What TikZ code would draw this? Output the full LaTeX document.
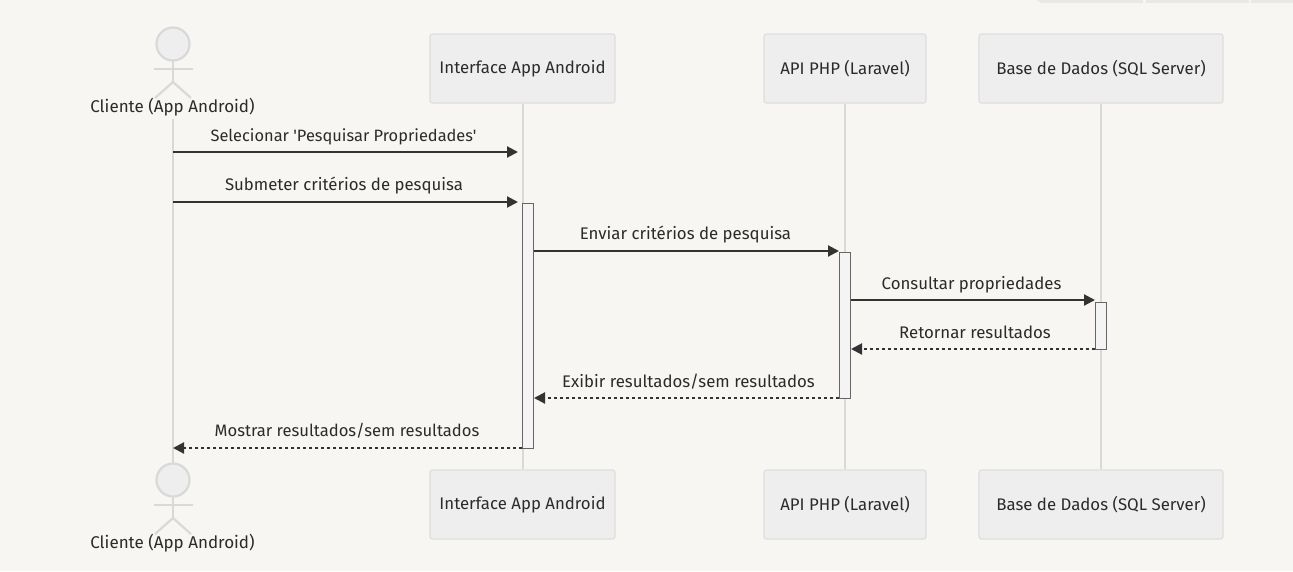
\documentclass[tikz,border=0pt]{standalone}
\usepackage{fontspec}
\setmainfont{Fira Sans}[Ligatures=TeXOff]
\usetikzlibrary{arrows.meta,calc}
\definecolor{bgc}{HTML}{F7F6F3}
\definecolor{boxf}{HTML}{EEEEEF}
\definecolor{boxd}{HTML}{DEDEDE}
\definecolor{lifec}{HTML}{D9D9D9}
\definecolor{inkc}{HTML}{333333}
\definecolor{txtc}{HTML}{2B2B2B}
\definecolor{actf}{HTML}{F4F4F4}
\definecolor{actd}{HTML}{666666}
\definecolor{stripc}{HTML}{E9E8E4}
\tikzset{
  x=1pt,y=-1pt,
  lbl/.style={text=txtc,font=\fontsize{16.8}{19}\selectfont,inner sep=0pt,anchor=center},
  actorlbl/.style={lbl,font=\fontsize{17}{19}\selectfont},
  part/.style={draw=boxd,fill=boxf,line width=1.2pt,rounded corners=2.5pt,minimum height=69pt,text=txtc,font=\fontsize{16.8}{19}\selectfont,inner sep=0pt},
  life/.style={draw=lifec,line width=2.2pt},
  stick/.style={draw=lifec,line width=2.2pt},
  activ/.style={draw=actd,fill=actf,line width=1pt,minimum width=11pt,inner sep=0pt},
  msg/.style={draw=inkc,line width=2.1pt,-{Triangle[length=11pt,width=11pt]}},
  ret/.style={msg,dash pattern=on 3pt off 3pt},
}
\newcommand{\stickman}[2]{%
  \draw[stick,fill=boxf] (#1,#2) circle[radius=16.5];
  \draw[stick] (#1,#2+16.5) -- (#1,#2+38);
  \draw[stick] (#1-19.5,#2+25) -- (#1+19.5,#2+25);
  \draw[stick] (#1-18,#2+54) -- (#1,#2+38) -- (#1+18,#2+54);
}
\begin{document}
\begin{tikzpicture}
\path[fill=bgc] (0,0) rectangle (1293,571);
\useasboundingbox (0,0) rectangle (1293,571);
\fill[stripc] (1037,0) -- (1143,0) -- (1143,3) -- (1041,3) -- cycle;
\fill[stripc] (1146,0) rectangle (1249,3);
\fill[stripc] (1251,0) rectangle (1293,3);

% participants
\node[part,minimum width=185pt] (uitop) at (522.5,68.5) {\raisebox{-1.5pt}{Interface App Android}};
\node[part,minimum width=162pt] (apitop) at (845,68.5) {\raisebox{-1.5pt}{API PHP (Laravel)}};
\node[part,minimum width=244pt] (dbtop) at (1101,68.5) {\raisebox{-1.5pt}{Base de Dados (SQL Server)}};
\node[part,minimum width=185pt] (uibot) at (522.5,504.5) {\raisebox{-1.5pt}{Interface App Android}};
\node[part,minimum width=162pt] (apibot) at (845,504.5) {\raisebox{-1.5pt}{API PHP (Laravel)}};
\node[part,minimum width=244pt] (dbbot) at (1101,504.5) {\raisebox{-1.5pt}{Base de Dados (SQL Server)}};
\node[actorlbl] (cltop) at (172.5,107) {Cliente (App Android)};
\node[actorlbl] (clbot) at (172.5,543) {Cliente (App Android)};
\coordinate (clstart) at (173,119);
\coordinate (clend) at (173,464);
\coordinate (uix) at (523,0);

% lifelines
\draw[life] (clstart) -- (clend);
\draw[life] (uix |- uitop.south) -- (uix |- uibot.north);
\draw[life] (apitop.south) -- (apibot.north);
\draw[life] (dbtop.south) -- (dbbot.north);

% actors
\stickman{173}{44}
\stickman{173}{480}

% activations
\node[activ,minimum height=244.5pt] (a1) at (528,325.75) {};
\node[activ,minimum height=145.5pt] (a2) at (845,325.25) {};
\node[activ,minimum height=47pt] (a3) at (1101,325.75) {};

% message levels
\coordinate (y1) at (0,152);
\coordinate (y2) at (0,202);
\coordinate (y3) at (0,251);
\coordinate (y4) at (0,300);
\coordinate (y5) at (0,349);
\coordinate (y6) at (0,398);
\coordinate (y7) at (0,448);

\draw[msg,shorten >=4.5pt] (clstart |- y1) -- (uitop.south |- y1);
\draw[msg,shorten >=4.5pt] (clstart |- y2) -- (uitop.south |- y2);
\draw[msg] (a1.east |- y3) -- (a2.west |- y3);
\draw[msg] (a2.east |- y4) -- (a3.west |- y4);
\draw[ret] (a3.west |- y5) -- (a2.east |- y5);
\draw[ret] (a2.west |- y6) -- (a1.east |- y6);
\draw[ret] (a1.west |- y7) -- (clstart |- y7);

% message labels
\node[lbl,font=\fontsize{16.4}{19}\selectfont] (t1) at (343.5,137) {Selecionar 'Pesquisar Propriedades'};
\node[lbl] (t2) at (344,186) {Submeter critérios de pesquisa};
\node[lbl] (t3) at (685.5,235) {Enviar critérios de pesquisa};
\node[lbl] (t4) at (971.5,285) {Consultar propriedades};
\node[lbl] (t5) at (975,332) {Retornar resultados};
\node[lbl] (t6) at (688.5,382) {Exibir resultados/sem resultados};
\node[lbl,font=\fontsize{16.6}{19}\selectfont] (t7) at (347,431) {Mostrar resultados/sem resultados};
\end{tikzpicture}
\end{document}
